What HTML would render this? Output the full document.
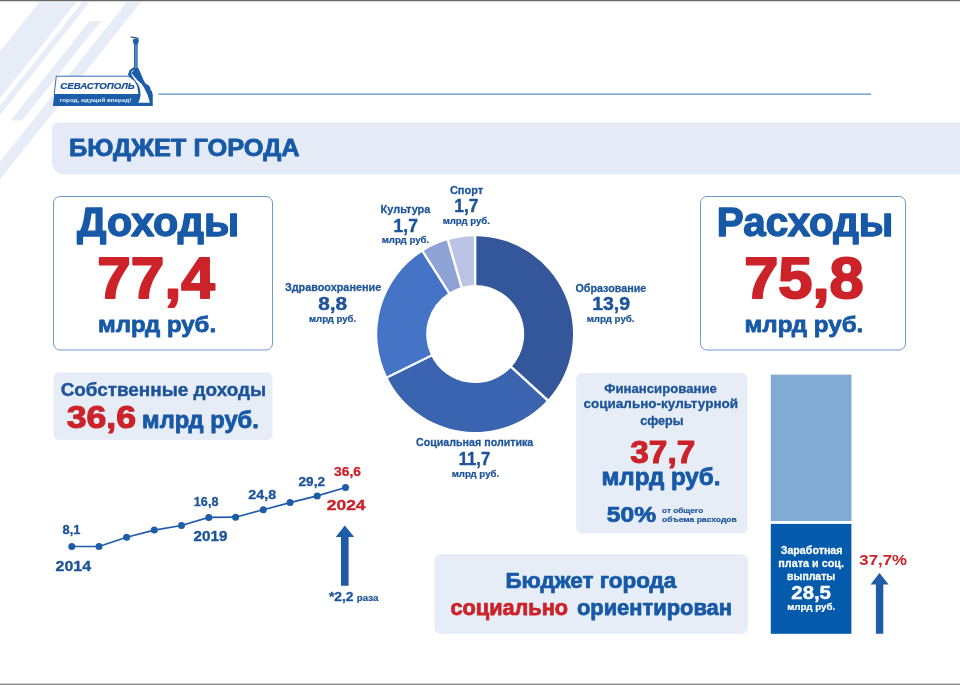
<!DOCTYPE html>
<html lang="ru"><head><meta charset="utf-8"><title>Бюджет города</title>
<style>
html,body{margin:0;padding:0;background:#ffffff;}
body{width:960px;height:685px;overflow:hidden;font-family:"Liberation Sans",sans-serif;}
svg{display:block;}
svg text{font-family:"Liberation Sans",sans-serif;}
</style></head><body>
<svg width="960" height="685" viewBox="0 0 960 685">
<polygon points="41.0,0.0 78.0,0.0 0.0,98.2 0.0,51.6" fill="#e7edf6"/>
<polygon points="84.0,0.0 91.2,0.0 0.0,114.9 0.0,105.8" fill="#e7edf6"/>
<polygon points="89.6,21.0 101.0,21.0 22.0,120.5 10.6,120.5" fill="#e7edf6"/>
<polygon points="128.5,0.0 142.5,0.0 0.0,179.5 0.0,161.8" fill="#e7edf6"/>
<rect x="0" y="0" width="960" height="1" fill="#6a6a6a"/>
<rect x="0" y="1" width="960" height="1" fill="#d8d8d8"/>
<rect x="0" y="684" width="960" height="1" fill="#808080"/>
<rect x="0" y="683" width="960" height="1" fill="#d4d4d4"/>
<rect x="158.4" y="93.6" width="712.6" height="1.1" fill="#4a80bd"/>
<polygon points="56.3,76.2 140,76.2 141,94.5 54.2,94.5" fill="#ffffff" stroke="#1c5daa" stroke-width="0.9"/>
<polygon points="54.3,94 152.5,94 152.5,106 52.9,106" fill="#1c5daa"/>
<path d="M133.5,67.2 L137.9,67.2 L139.7,71 L141.2,74.6 L143.4,79.7 L145.5,83.4 L148.8,85.5 L150.3,87.7 L150.7,89.9 L152.1,91.4 L152.5,94 L152.5,106 L137,106 L138.3,94 L138.2,92.8 L137.2,86.3 L134.6,81.2 L129.1,76.8 L128,74.6 L129.5,70.2 Z" fill="#1c5daa"/>
<path d="M134.6,70.6 C133,70.2 131.6,70.8 131.2,72.4 C133.5,75.5 137,80 139.3,81.9 L141.2,83.4 L144.1,87.7 L147.7,95 L149.9,102.7 L138.2,102.7 C139.9,99.4 140.5,97 140.5,95 C140.5,91 139.8,87.6 138.2,84.6 C136.6,81.6 133.6,78.6 131.9,75.4 C131.2,73.8 131.4,71.6 134.6,70.6 Z" fill="#ffffff"/>
<rect x="134.1" y="44" width="3.4" height="23.6" fill="#7fa6d4"/>
<rect x="134.1" y="44" width="1.3" height="23.6" fill="#1c5daa"/>
<rect x="136.5" y="44" width="1.0" height="23.6" fill="#1c5daa"/>
<path d="M133.4,39 L138.2,39 L138.9,41 L137.6,44.6 L134,44.6 L132.7,41.6 Z" fill="#1c5daa"/>
<path d="M129.7,36.6 L135.2,36.9 L138.7,38 L138.5,39 L135,38.6 L131,37.6 Z" fill="#1d4f8f"/>
<text x="60.24" y="89.10" font-size="9" font-weight="bold" font-style="italic" fill="#1a4f93" textLength="74.43" lengthAdjust="spacingAndGlyphs" stroke="#1a4f93" stroke-width="0.22" stroke-linejoin="round">СЕВАСТОПОЛЬ</text>
<text x="59.76" y="101.90" font-size="6.0" font-weight="bold" fill="#e6eef8" textLength="71.63" lengthAdjust="spacingAndGlyphs">город, идущий вперед!</text>
<path d="M58,122.6 H960 V174.2 H64 A12,12 0 0 1 52,162.2 V128.6 A6,6 0 0 1 58,122.6 Z" fill="#e4ebf6"/>
<text x="69.11" y="156.20" font-size="24.2" font-weight="bold" fill="#1759a6" textLength="230.55" lengthAdjust="spacingAndGlyphs" stroke="#1759a6" stroke-width="0.82" stroke-linejoin="round">БЮДЖЕТ ГОРОДА</text>
<rect x="53.5" y="196.5" width="219.0" height="153.5" rx="6.5" fill="#ffffff" stroke="#6f9bcb" stroke-width="1"/>
<text x="77.12" y="235.60" font-size="40" font-weight="bold" fill="#1759a6" textLength="162.08" lengthAdjust="spacingAndGlyphs" stroke="#1759a6" stroke-width="1.36" stroke-linejoin="round">Доходы</text>
<text x="97.29" y="297.70" font-size="58" font-weight="bold" fill="#cc2229" textLength="117.45" lengthAdjust="spacingAndGlyphs" stroke="#cc2229" stroke-width="1.97" stroke-linejoin="round">77,4</text>
<text x="98.11" y="332.10" font-size="22.6" font-weight="bold" fill="#1759a6" textLength="117.95" lengthAdjust="spacingAndGlyphs" stroke="#1759a6" stroke-width="0.77" stroke-linejoin="round">млрд руб.</text>
<rect x="700.5" y="196.5" width="205.0" height="153.5" rx="6.5" fill="#ffffff" stroke="#6f9bcb" stroke-width="1"/>
<text x="716.88" y="235.60" font-size="40" font-weight="bold" fill="#1759a6" textLength="176.46" lengthAdjust="spacingAndGlyphs" stroke="#1759a6" stroke-width="1.36" stroke-linejoin="round">Расходы</text>
<text x="744.15" y="297.70" font-size="58" font-weight="bold" fill="#cc2229" textLength="119.56" lengthAdjust="spacingAndGlyphs" stroke="#cc2229" stroke-width="1.97" stroke-linejoin="round">75,8</text>
<text x="744.50" y="332.10" font-size="22.6" font-weight="bold" fill="#1759a6" textLength="118.78" lengthAdjust="spacingAndGlyphs" stroke="#1759a6" stroke-width="0.77" stroke-linejoin="round">млрд руб.</text>
<rect x="53.5" y="372.3" width="219" height="67.7" rx="6" fill="#e6edf7"/>
<text x="60.65" y="395.80" font-size="18.4" font-weight="bold" fill="#1d5499" textLength="205.45" lengthAdjust="spacingAndGlyphs" stroke="#1d5499" stroke-width="0.44" stroke-linejoin="round">Собственные доходы</text>
<text x="66.72" y="428.00" font-size="31.4" font-weight="bold" fill="#cc2229" textLength="69.33" lengthAdjust="spacingAndGlyphs" stroke="#cc2229" stroke-width="1.07" stroke-linejoin="round">36,6</text>
<text x="142.14" y="428.10" font-size="23.3" font-weight="bold" fill="#1759a6" textLength="116.70" lengthAdjust="spacingAndGlyphs" stroke="#1759a6" stroke-width="0.79" stroke-linejoin="round">млрд руб.</text>
<polyline fill="none" stroke="#1f5ca8" stroke-width="1.7" points="71.8,546.5 99,546.5 126.6,537.3 154.3,530.1 181.5,525.5 208.8,517.4 235.6,517.2 263.3,509.7 290.1,502.6 317.2,495.9 345.5,487.5"/>
<circle cx="71.8" cy="546.5" r="3.5" fill="#1f5ca8"/>
<circle cx="99" cy="546.5" r="3.5" fill="#1f5ca8"/>
<circle cx="126.6" cy="537.3" r="3.5" fill="#1f5ca8"/>
<circle cx="154.3" cy="530.1" r="3.5" fill="#1f5ca8"/>
<circle cx="181.5" cy="525.5" r="3.5" fill="#1f5ca8"/>
<circle cx="208.8" cy="517.4" r="3.5" fill="#1f5ca8"/>
<circle cx="235.6" cy="517.2" r="3.5" fill="#1f5ca8"/>
<circle cx="263.3" cy="509.7" r="3.5" fill="#1f5ca8"/>
<circle cx="290.1" cy="502.6" r="3.5" fill="#1f5ca8"/>
<circle cx="317.2" cy="495.9" r="3.5" fill="#1f5ca8"/>
<circle cx="345.5" cy="487.5" r="3.5" fill="#1f5ca8"/>
<text x="62.64" y="533.60" font-size="12.3" font-weight="bold" fill="#1d5499" textLength="17.87" lengthAdjust="spacingAndGlyphs" stroke="#1d5499" stroke-width="0.3" stroke-linejoin="round">8,1</text>
<text x="55.63" y="571.20" font-size="15" font-weight="bold" fill="#1d5499" textLength="35.48" lengthAdjust="spacingAndGlyphs" stroke="#1d5499" stroke-width="0.36" stroke-linejoin="round">2014</text>
<text x="193.85" y="506.30" font-size="12.3" font-weight="bold" fill="#1d5499" textLength="24.58" lengthAdjust="spacingAndGlyphs" stroke="#1d5499" stroke-width="0.3" stroke-linejoin="round">16,8</text>
<text x="193.55" y="540.80" font-size="15" font-weight="bold" fill="#1d5499" textLength="33.83" lengthAdjust="spacingAndGlyphs" stroke="#1d5499" stroke-width="0.36" stroke-linejoin="round">2019</text>
<text x="248.25" y="499.10" font-size="12.3" font-weight="bold" fill="#1d5499" textLength="27.84" lengthAdjust="spacingAndGlyphs" stroke="#1d5499" stroke-width="0.3" stroke-linejoin="round">24,8</text>
<text x="298.58" y="485.50" font-size="12.3" font-weight="bold" fill="#1d5499" textLength="26.41" lengthAdjust="spacingAndGlyphs" stroke="#1d5499" stroke-width="0.3" stroke-linejoin="round">29,2</text>
<text x="334.03" y="475.60" font-size="12.3" font-weight="bold" fill="#cc2229" textLength="26.92" lengthAdjust="spacingAndGlyphs" stroke="#cc2229" stroke-width="0.3" stroke-linejoin="round">36,6</text>
<text x="326.78" y="510.30" font-size="15.2" font-weight="bold" fill="#cc2229" textLength="38.74" lengthAdjust="spacingAndGlyphs" stroke="#cc2229" stroke-width="0.36" stroke-linejoin="round">2024</text>
<path d="M344.8,525.6 L354.2,537 L348.6,537 L348.6,585.8 L341,585.8 L341,537 L335.8,537 Z" fill="#1f5ca8"/>
<text x="328.90" y="600.90" font-size="12.2" font-weight="bold" fill="#1d5499" textLength="24.71" lengthAdjust="spacingAndGlyphs" stroke="#1d5499" stroke-width="0.29" stroke-linejoin="round">*2,2</text>
<text x="356.87" y="600.90" font-size="9.2" font-weight="bold" fill="#1d5499" textLength="21.56" lengthAdjust="spacingAndGlyphs" stroke="#1d5499" stroke-width="0.22" stroke-linejoin="round">раза</text>
<path d="M475.15,236.20 A97.9,97.9 0 0 1 547.47,400.09 L511.35,367.13 A49,49 0 0 0 475.15,285.10 Z" fill="#33579a"/>
<path d="M547.47,400.09 A97.9,97.9 0 0 1 387.30,377.31 L431.18,355.73 A49,49 0 0 0 511.35,367.13 Z" fill="#3b64b0"/>
<path d="M387.30,377.31 A97.9,97.9 0 0 1 422.72,251.42 L448.91,292.72 A49,49 0 0 0 431.18,355.73 Z" fill="#4573c6"/>
<path d="M422.72,251.42 A97.9,97.9 0 0 1 447.85,240.08 L461.49,287.04 A49,49 0 0 0 448.91,292.72 Z" fill="#8ea2d6"/>
<path d="M447.85,240.08 A97.9,97.9 0 0 1 475.15,236.20 L475.15,285.10 A49,49 0 0 0 461.49,287.04 Z" fill="#bcc4e5"/>
<line x1="475.15" y1="286.10" x2="475.15" y2="235.20" stroke="#ffffff" stroke-width="2.4"/>
<line x1="510.61" y1="366.45" x2="548.21" y2="400.76" stroke="#ffffff" stroke-width="2.4"/>
<line x1="432.08" y1="355.29" x2="386.40" y2="377.75" stroke="#ffffff" stroke-width="2.4"/>
<line x1="449.44" y1="293.56" x2="422.18" y2="250.58" stroke="#ffffff" stroke-width="2.4"/>
<line x1="461.77" y1="288.00" x2="447.57" y2="239.12" stroke="#ffffff" stroke-width="2.4"/>
<text x="449.88" y="193.90" font-size="11.3" font-weight="bold" fill="#1d5499" textLength="33.29" lengthAdjust="spacingAndGlyphs" stroke="#1d5499" stroke-width="0.27" stroke-linejoin="round">Спорт</text>
<text x="454.32" y="212.40" font-size="18.4" font-weight="bold" fill="#1d5499" textLength="24.22" lengthAdjust="spacingAndGlyphs" stroke="#1d5499" stroke-width="0.44" stroke-linejoin="round">1,7</text>
<text x="442.65" y="224.00" font-size="9.8" font-weight="bold" fill="#1d5499" textLength="47.29" lengthAdjust="spacingAndGlyphs" stroke="#1d5499" stroke-width="0.24" stroke-linejoin="round">млрд руб.</text>
<text x="380.60" y="213.30" font-size="11.3" font-weight="bold" fill="#1d5499" textLength="49.79" lengthAdjust="spacingAndGlyphs" stroke="#1d5499" stroke-width="0.27" stroke-linejoin="round">Культура</text>
<text x="393.62" y="231.80" font-size="18.4" font-weight="bold" fill="#1d5499" textLength="24.22" lengthAdjust="spacingAndGlyphs" stroke="#1d5499" stroke-width="0.44" stroke-linejoin="round">1,7</text>
<text x="381.64" y="243.20" font-size="9.8" font-weight="bold" fill="#1d5499" textLength="47.60" lengthAdjust="spacingAndGlyphs" stroke="#1d5499" stroke-width="0.24" stroke-linejoin="round">млрд руб.</text>
<text x="284.89" y="291.00" font-size="11.3" font-weight="bold" fill="#1d5499" textLength="96.34" lengthAdjust="spacingAndGlyphs" stroke="#1d5499" stroke-width="0.27" stroke-linejoin="round">Здравоохранение</text>
<text x="318.26" y="310.10" font-size="18.4" font-weight="bold" fill="#1d5499" textLength="28.96" lengthAdjust="spacingAndGlyphs" stroke="#1d5499" stroke-width="0.44" stroke-linejoin="round">8,8</text>
<text x="308.95" y="321.80" font-size="9.8" font-weight="bold" fill="#1d5499" textLength="47.29" lengthAdjust="spacingAndGlyphs" stroke="#1d5499" stroke-width="0.24" stroke-linejoin="round">млрд руб.</text>
<text x="575.49" y="291.80" font-size="11.3" font-weight="bold" fill="#1d5499" textLength="70.74" lengthAdjust="spacingAndGlyphs" stroke="#1d5499" stroke-width="0.27" stroke-linejoin="round">Образование</text>
<text x="592.19" y="310.10" font-size="18.4" font-weight="bold" fill="#1d5499" textLength="37.91" lengthAdjust="spacingAndGlyphs" stroke="#1d5499" stroke-width="0.44" stroke-linejoin="round">13,9</text>
<text x="586.64" y="322.00" font-size="9.8" font-weight="bold" fill="#1d5499" textLength="47.91" lengthAdjust="spacingAndGlyphs" stroke="#1d5499" stroke-width="0.24" stroke-linejoin="round">млрд руб.</text>
<text x="416.00" y="446.00" font-size="11.3" font-weight="bold" fill="#1d5499" textLength="117.30" lengthAdjust="spacingAndGlyphs" stroke="#1d5499" stroke-width="0.27" stroke-linejoin="round">Социальная политика</text>
<text x="458.78" y="464.80" font-size="18.4" font-weight="bold" fill="#1d5499" textLength="31.33" lengthAdjust="spacingAndGlyphs" stroke="#1d5499" stroke-width="0.44" stroke-linejoin="round">11,7</text>
<text x="451.65" y="476.60" font-size="9.8" font-weight="bold" fill="#1d5499" textLength="47.50" lengthAdjust="spacingAndGlyphs" stroke="#1d5499" stroke-width="0.24" stroke-linejoin="round">млрд руб.</text>
<rect x="576.2" y="373" width="171.4" height="160.6" rx="6" fill="#e6edf7"/>
<text x="604.30" y="393.00" font-size="13" font-weight="bold" fill="#1d5499" textLength="112.50" lengthAdjust="spacingAndGlyphs" stroke="#1d5499" stroke-width="0.31" stroke-linejoin="round">Финансирование</text>
<text x="583.53" y="408.10" font-size="13" font-weight="bold" fill="#1d5499" textLength="154.55" lengthAdjust="spacingAndGlyphs" stroke="#1d5499" stroke-width="0.31" stroke-linejoin="round">социально-культурной</text>
<text x="640.16" y="424.80" font-size="13" font-weight="bold" fill="#1d5499" textLength="43.36" lengthAdjust="spacingAndGlyphs" stroke="#1d5499" stroke-width="0.31" stroke-linejoin="round">сферы</text>
<text x="630.36" y="462.50" font-size="30.5" font-weight="bold" fill="#cc2229" textLength="64.79" lengthAdjust="spacingAndGlyphs" stroke="#cc2229" stroke-width="1.04" stroke-linejoin="round">37,7</text>
<text x="601.51" y="484.90" font-size="23.6" font-weight="bold" fill="#1759a6" textLength="118.95" lengthAdjust="spacingAndGlyphs" stroke="#1759a6" stroke-width="0.8" stroke-linejoin="round">млрд руб.</text>
<text x="606.81" y="522.00" font-size="21.5" font-weight="bold" fill="#1759a6" textLength="49.28" lengthAdjust="spacingAndGlyphs" stroke="#1759a6" stroke-width="0.73" stroke-linejoin="round">50%</text>
<text x="662.07" y="512.60" font-size="8" font-weight="bold" fill="#1d5499" textLength="41.15" lengthAdjust="spacingAndGlyphs" stroke="#1d5499" stroke-width="0.19" stroke-linejoin="round">от общего</text>
<text x="662.06" y="522.00" font-size="8" font-weight="bold" fill="#1d5499" textLength="74.78" lengthAdjust="spacingAndGlyphs" stroke="#1d5499" stroke-width="0.19" stroke-linejoin="round">объема расходов</text>
<rect x="770.8" y="374.6" width="80.6" height="146.4" fill="#82abd4"/>
<rect x="770.8" y="523.9" width="80.6" height="109.9" fill="#045aab"/>
<text x="780.69" y="553.70" font-size="10.7" font-weight="bold" fill="#ffffff" textLength="61.83" lengthAdjust="spacingAndGlyphs" stroke="#ffffff" stroke-width="0.26" stroke-linejoin="round">Заработная</text>
<text x="778.28" y="566.80" font-size="10.7" font-weight="bold" fill="#ffffff" textLength="65.64" lengthAdjust="spacingAndGlyphs" stroke="#ffffff" stroke-width="0.26" stroke-linejoin="round">плата и соц.</text>
<text x="787.10" y="579.70" font-size="10.7" font-weight="bold" fill="#ffffff" textLength="48.10" lengthAdjust="spacingAndGlyphs" stroke="#ffffff" stroke-width="0.26" stroke-linejoin="round">выплаты</text>
<text x="791.32" y="598.60" font-size="18.6" font-weight="bold" fill="#ffffff" textLength="39.62" lengthAdjust="spacingAndGlyphs" stroke="#ffffff" stroke-width="0.45" stroke-linejoin="round">28,5</text>
<text x="787.14" y="610.10" font-size="9.8" font-weight="bold" fill="#ffffff" textLength="48.01" lengthAdjust="spacingAndGlyphs" stroke="#ffffff" stroke-width="0.24" stroke-linejoin="round">млрд руб.</text>
<text x="859.31" y="565.00" font-size="15.4" font-weight="bold" fill="#cc2229" textLength="47.63" lengthAdjust="spacingAndGlyphs">37,7%</text>
<path d="M879.5,573 L888.6,584.6 L883.3,584.6 L883.3,633.7 L875.9,633.7 L875.9,584.6 L870.6,584.6 Z" fill="#1f5ca8"/>
<rect x="434.3" y="554.3" width="313.7" height="79.4" rx="6" fill="#e6edf7"/>
<text x="505.46" y="587.90" font-size="21.3" font-weight="bold" fill="#1759a6" textLength="170.84" lengthAdjust="spacingAndGlyphs" stroke="#1759a6" stroke-width="0.72" stroke-linejoin="round">Бюджет города</text>
<text x="450.53" y="615.20" font-size="22" font-weight="bold" fill="#cc2229" textLength="117.55" lengthAdjust="spacingAndGlyphs" stroke="#cc2229" stroke-width="0.75" stroke-linejoin="round">социально</text>
<text x="576.92" y="615.20" font-size="22" font-weight="bold" fill="#1759a6" textLength="155.03" lengthAdjust="spacingAndGlyphs" stroke="#1759a6" stroke-width="0.75" stroke-linejoin="round">ориентирован</text>
</svg>
</body></html>
